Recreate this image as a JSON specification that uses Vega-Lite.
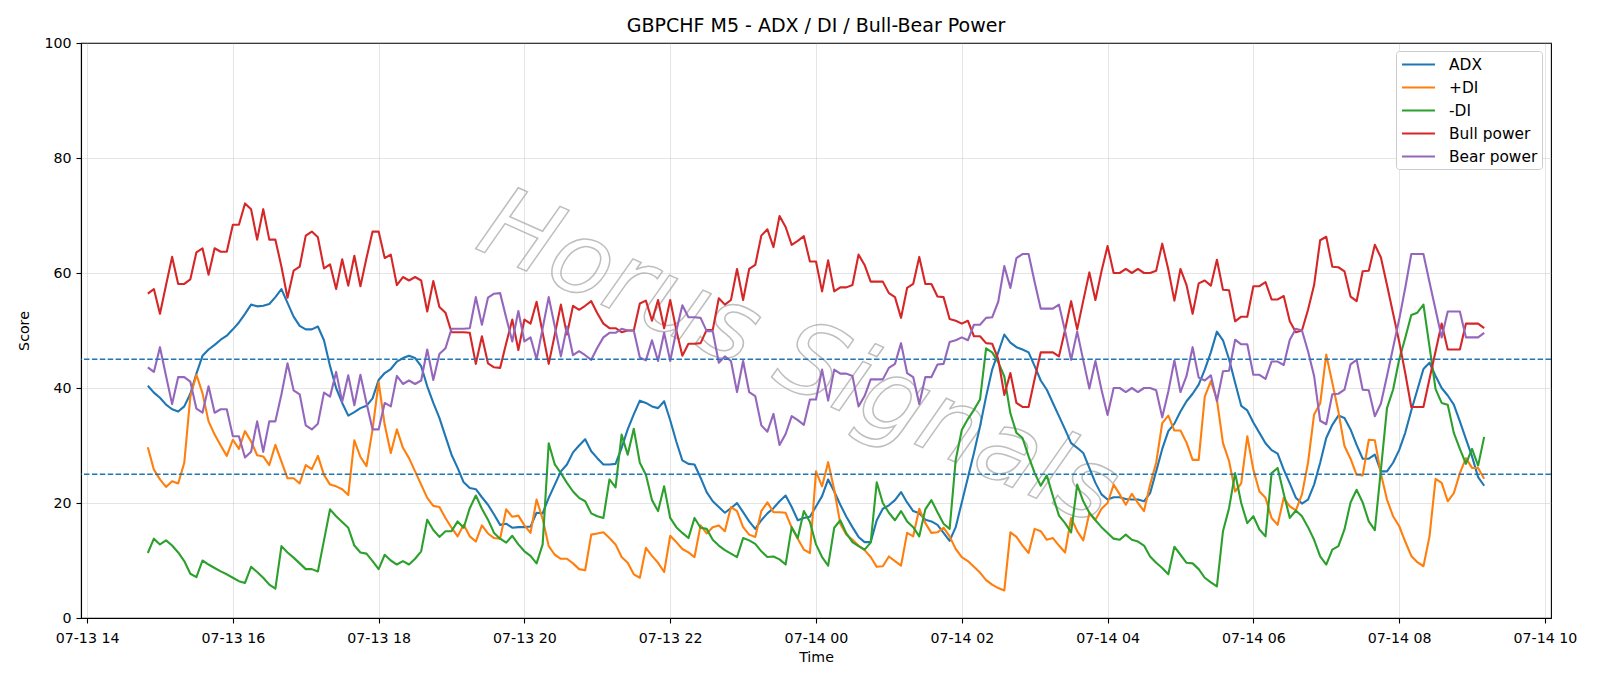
{
  "$schema": "https://vega.github.io/schema/vega-lite/v6.json",
  "width": 1470,
  "height": 575,
  "autosize": {"type": "none"},
  "padding": {"left": 81, "top": 43, "right": 49, "bottom": 68},
  "background": "white",
  "title": {
    "text": "GBPCHF M5 - ADX / DI / Bull-Bear Power",
    "font": "DejaVu Sans",
    "fontSize": 19,
    "fontWeight": "normal",
    "color": "black",
    "anchor": "middle",
    "offset": 0
  },
  "config": {
    "view": {"stroke": "black", "strokeWidth": 1.1},
    "axis": {
      "labelFont": "DejaVu Sans",
      "titleFont": "DejaVu Sans",
      "labelFontSize": 14.2,
      "titleFontSize": 14.2,
      "labelColor": "black",
      "titleColor": "black",
      "titleFontWeight": "normal",
      "domainColor": "black",
      "domainWidth": 1.1,
      "tickColor": "black",
      "tickWidth": 1.1,
      "tickSize": 5,
      "gridColor": "#b0b0b0",
      "gridOpacity": 0.33,
      "gridWidth": 1
    },
    "legend": {
      "labelFont": "DejaVu Sans",
      "labelFontSize": 15.4,
      "labelColor": "black",
      "symbolStrokeWidth": 2.1,
      "padding": 4,
      "strokeColor": "#cccccc",
      "fillColor": "white",
      "cornerRadius": 3
    }
  },
  "layer": [
    {
      "data": {"values": [{"t": "2025-07-13T23:45", "value": 45}]},
      "mark": {
        "type": "text",
        "text": "Horus Signals",
        "font": "DejaVu Sans",
        "fontStyle": "italic",
        "fontSize": 100,
        "angle": 24,
        "align": "center",
        "baseline": "middle",
        "fill": "#ffffff",
        "fillOpacity": 0,
        "stroke": "#a8a8a8",
        "strokeWidth": 1.5,
        "strokeOpacity": 0.75
      },
      "encoding": {
        "x": {"field": "t", "type": "temporal"},
        "y": {"field": "value", "type": "quantitative"}
      }
    },
    {
      "data": {
        "values": [
          {"t":"2025-07-13T14:50","ADX":40.4,"+DI":29.7,"-DI":11.3,"Bull power":56.4,"Bear power":43.6},
          {"t":"2025-07-13T14:55","ADX":39.2,"+DI":25.8,"-DI":13.8,"Bull power":57.2,"Bear power":42.8},
          {"t":"2025-07-13T15:00","ADX":38.3,"+DI":24.1,"-DI":12.8,"Bull power":52.9,"Bear power":47.1},
          {"t":"2025-07-13T15:05","ADX":37.1,"+DI":22.8,"-DI":13.5,"Bull power":57.9,"Bear power":42.1},
          {"t":"2025-07-13T15:10","ADX":36.3,"+DI":23.8,"-DI":12.6,"Bull power":62.8,"Bear power":37.2},
          {"t":"2025-07-13T15:15","ADX":35.9,"+DI":23.4,"-DI":11.4,"Bull power":58.1,"Bear power":41.9},
          {"t":"2025-07-13T15:20","ADX":36.8,"+DI":27.0,"-DI":9.9,"Bull power":58.1,"Bear power":41.9},
          {"t":"2025-07-13T15:25","ADX":39.0,"+DI":38.5,"-DI":7.7,"Bull power":58.9,"Bear power":41.1},
          {"t":"2025-07-13T15:30","ADX":42.5,"+DI":42.3,"-DI":7.1,"Bull power":63.6,"Bear power":36.4},
          {"t":"2025-07-13T15:35","ADX":45.6,"+DI":39.1,"-DI":10.0,"Bull power":64.3,"Bear power":35.7},
          {"t":"2025-07-13T15:40","ADX":46.7,"+DI":34.2,"-DI":9.3,"Bull power":59.7,"Bear power":40.3},
          {"t":"2025-07-13T15:45","ADX":47.5,"+DI":31.9,"-DI":8.7,"Bull power":64.3,"Bear power":35.7},
          {"t":"2025-07-13T15:50","ADX":48.4,"+DI":30.0,"-DI":8.1,"Bull power":63.7,"Bear power":36.3},
          {"t":"2025-07-13T15:55","ADX":49.1,"+DI":28.2,"-DI":7.6,"Bull power":63.7,"Bear power":36.3},
          {"t":"2025-07-13T16:00","ADX":50.2,"+DI":31.0,"-DI":7.0,"Bull power":68.4,"Bear power":31.6},
          {"t":"2025-07-13T16:05","ADX":51.4,"+DI":29.4,"-DI":6.4,"Bull power":68.4,"Bear power":31.6},
          {"t":"2025-07-13T16:10","ADX":52.9,"+DI":32.5,"-DI":6.1,"Bull power":72.1,"Bear power":27.9},
          {"t":"2025-07-13T16:15","ADX":54.5,"+DI":30.7,"-DI":8.9,"Bull power":71.1,"Bear power":28.9},
          {"t":"2025-07-13T16:20","ADX":54.2,"+DI":28.3,"-DI":8.0,"Bull power":65.8,"Bear power":34.2},
          {"t":"2025-07-13T16:25","ADX":54.3,"+DI":28.1,"-DI":7.0,"Bull power":71.1,"Bear power":28.9},
          {"t":"2025-07-13T16:30","ADX":54.6,"+DI":26.6,"-DI":5.8,"Bull power":65.8,"Bear power":34.2},
          {"t":"2025-07-13T16:35","ADX":55.8,"+DI":30.1,"-DI":5.1,"Bull power":65.8,"Bear power":34.2},
          {"t":"2025-07-13T16:40","ADX":57.2,"+DI":27.2,"-DI":12.5,"Bull power":61.1,"Bear power":38.9},
          {"t":"2025-07-13T16:45","ADX":54.8,"+DI":24.3,"-DI":11.4,"Bull power":55.7,"Bear power":44.3},
          {"t":"2025-07-13T16:50","ADX":52.4,"+DI":24.3,"-DI":10.5,"Bull power":60.4,"Bear power":39.6},
          {"t":"2025-07-13T16:55","ADX":50.8,"+DI":23.4,"-DI":9.5,"Bull power":61.1,"Bear power":38.9},
          {"t":"2025-07-13T17:00","ADX":50.2,"+DI":26.6,"-DI":8.5,"Bull power":66.5,"Bear power":33.5},
          {"t":"2025-07-13T17:05","ADX":50.2,"+DI":25.9,"-DI":8.5,"Bull power":67.2,"Bear power":32.8},
          {"t":"2025-07-13T17:10","ADX":50.7,"+DI":28.2,"-DI":8.1,"Bull power":66.2,"Bear power":33.8},
          {"t":"2025-07-13T17:15","ADX":48.3,"+DI":24.9,"-DI":13.5,"Bull power":60.8,"Bear power":39.2},
          {"t":"2025-07-13T17:20","ADX":43.8,"+DI":23.2,"-DI":18.9,"Bull power":61.5,"Bear power":38.5},
          {"t":"2025-07-13T17:25","ADX":40.0,"+DI":22.9,"-DI":17.7,"Bull power":57.2,"Bear power":42.8},
          {"t":"2025-07-13T17:30","ADX":37.4,"+DI":22.4,"-DI":16.7,"Bull power":62.4,"Bear power":37.6},
          {"t":"2025-07-13T17:35","ADX":35.2,"+DI":21.4,"-DI":15.7,"Bull power":57.8,"Bear power":42.2},
          {"t":"2025-07-13T17:40","ADX":35.8,"+DI":30.9,"-DI":12.6,"Bull power":63.0,"Bear power":37.0},
          {"t":"2025-07-13T17:45","ADX":36.5,"+DI":28.0,"-DI":11.4,"Bull power":57.7,"Bear power":42.3},
          {"t":"2025-07-13T17:50","ADX":36.9,"+DI":26.4,"-DI":11.2,"Bull power":62.6,"Bear power":37.4},
          {"t":"2025-07-13T17:55","ADX":38.2,"+DI":32.8,"-DI":9.9,"Bull power":67.2,"Bear power":32.8},
          {"t":"2025-07-13T18:00","ADX":41.4,"+DI":41.0,"-DI":8.5,"Bull power":67.2,"Bear power":32.8},
          {"t":"2025-07-13T18:05","ADX":42.6,"+DI":33.6,"-DI":11.0,"Bull power":62.6,"Bear power":37.4},
          {"t":"2025-07-13T18:10","ADX":43.3,"+DI":28.7,"-DI":10.0,"Bull power":63.2,"Bear power":36.8},
          {"t":"2025-07-13T18:15","ADX":44.6,"+DI":32.8,"-DI":9.3,"Bull power":57.9,"Bear power":42.1},
          {"t":"2025-07-13T18:20","ADX":45.2,"+DI":29.6,"-DI":9.9,"Bull power":59.3,"Bear power":40.7},
          {"t":"2025-07-13T18:25","ADX":45.6,"+DI":27.8,"-DI":9.3,"Bull power":58.7,"Bear power":41.3},
          {"t":"2025-07-13T18:30","ADX":45.2,"+DI":25.5,"-DI":10.3,"Bull power":59.3,"Bear power":40.7},
          {"t":"2025-07-13T18:35","ADX":43.8,"+DI":23.2,"-DI":11.6,"Bull power":58.7,"Bear power":41.3},
          {"t":"2025-07-13T18:40","ADX":40.3,"+DI":20.9,"-DI":17.1,"Bull power":53.3,"Bear power":46.7},
          {"t":"2025-07-13T18:45","ADX":37.4,"+DI":19.5,"-DI":15.3,"Bull power":58.6,"Bear power":41.4},
          {"t":"2025-07-13T18:50","ADX":34.8,"+DI":19.3,"-DI":14.1,"Bull power":54.1,"Bear power":45.9},
          {"t":"2025-07-13T18:55","ADX":31.6,"+DI":17.4,"-DI":15.1,"Bull power":53.1,"Bear power":46.9},
          {"t":"2025-07-13T19:00","ADX":28.4,"+DI":15.7,"-DI":15.1,"Bull power":49.7,"Bear power":50.3},
          {"t":"2025-07-13T19:05","ADX":26.1,"+DI":14.2,"-DI":16.8,"Bull power":49.7,"Bear power":50.3},
          {"t":"2025-07-13T19:10","ADX":23.6,"+DI":16.2,"-DI":15.7,"Bull power":49.7,"Bear power":50.3},
          {"t":"2025-07-13T19:15","ADX":22.6,"+DI":14.2,"-DI":19.1,"Bull power":49.6,"Bear power":50.4},
          {"t":"2025-07-13T19:20","ADX":22.4,"+DI":13.3,"-DI":21.3,"Bull power":44.2,"Bear power":55.8},
          {"t":"2025-07-13T19:25","ADX":21.0,"+DI":16.1,"-DI":19.0,"Bull power":49.0,"Bear power":51.0},
          {"t":"2025-07-13T19:30","ADX":19.7,"+DI":14.7,"-DI":17.1,"Bull power":44.3,"Bear power":55.7},
          {"t":"2025-07-13T19:35","ADX":18.0,"+DI":13.9,"-DI":14.8,"Bull power":43.6,"Bear power":56.4},
          {"t":"2025-07-13T19:40","ADX":16.2,"+DI":13.8,"-DI":13.8,"Bull power":43.5,"Bear power":56.5},
          {"t":"2025-07-13T19:45","ADX":16.4,"+DI":18.9,"-DI":13.1,"Bull power":47.8,"Bear power":52.2},
          {"t":"2025-07-13T19:50","ADX":15.7,"+DI":17.6,"-DI":14.3,"Bull power":51.9,"Bear power":48.1},
          {"t":"2025-07-13T19:55","ADX":15.8,"+DI":17.8,"-DI":12.8,"Bull power":46.6,"Bear power":53.4},
          {"t":"2025-07-13T20:00","ADX":15.8,"+DI":16.1,"-DI":11.6,"Bull power":51.9,"Bear power":48.1},
          {"t":"2025-07-13T20:05","ADX":15.9,"+DI":14.8,"-DI":10.8,"Bull power":51.2,"Bear power":48.8},
          {"t":"2025-07-13T20:10","ADX":18.3,"+DI":20.6,"-DI":9.5,"Bull power":55.0,"Bear power":45.0},
          {"t":"2025-07-13T20:15","ADX":18.2,"+DI":17.2,"-DI":12.8,"Bull power":49.6,"Bear power":50.4},
          {"t":"2025-07-13T20:20","ADX":20.9,"+DI":12.5,"-DI":30.4,"Bull power":44.2,"Bear power":55.8},
          {"t":"2025-07-13T20:25","ADX":23.2,"+DI":11.0,"-DI":26.7,"Bull power":49.3,"Bear power":50.7},
          {"t":"2025-07-13T20:30","ADX":25.5,"+DI":10.3,"-DI":25.2,"Bull power":54.5,"Bear power":45.5},
          {"t":"2025-07-13T20:35","ADX":26.7,"+DI":10.3,"-DI":23.5,"Bull power":49.3,"Bear power":50.7},
          {"t":"2025-07-13T20:40","ADX":28.8,"+DI":9.5,"-DI":22.0,"Bull power":54.3,"Bear power":45.7},
          {"t":"2025-07-13T20:45","ADX":30.0,"+DI":8.5,"-DI":20.9,"Bull power":53.6,"Bear power":46.4},
          {"t":"2025-07-13T20:50","ADX":31.1,"+DI":8.3,"-DI":20.3,"Bull power":54.3,"Bear power":45.7},
          {"t":"2025-07-13T20:55","ADX":29.0,"+DI":14.5,"-DI":18.2,"Bull power":55.1,"Bear power":44.9},
          {"t":"2025-07-13T21:00","ADX":27.8,"+DI":14.7,"-DI":17.7,"Bull power":53.0,"Bear power":47.0},
          {"t":"2025-07-13T21:05","ADX":26.7,"+DI":14.9,"-DI":17.4,"Bull power":51.2,"Bear power":48.8},
          {"t":"2025-07-13T21:10","ADX":26.7,"+DI":13.9,"-DI":24.1,"Bull power":50.4,"Bear power":49.6},
          {"t":"2025-07-13T21:15","ADX":26.8,"+DI":12.8,"-DI":22.7,"Bull power":50.4,"Bear power":49.6},
          {"t":"2025-07-13T21:20","ADX":29.6,"+DI":10.6,"-DI":31.9,"Bull power":49.7,"Bear power":50.3},
          {"t":"2025-07-13T21:25","ADX":32.8,"+DI":9.6,"-DI":28.4,"Bull power":50.0,"Bear power":50.0},
          {"t":"2025-07-13T21:30","ADX":35.4,"+DI":7.6,"-DI":32.9,"Bull power":50.0,"Bear power":50.0},
          {"t":"2025-07-13T21:35","ADX":37.8,"+DI":7.0,"-DI":27.0,"Bull power":54.7,"Bear power":45.3},
          {"t":"2025-07-13T21:40","ADX":37.4,"+DI":12.2,"-DI":24.9,"Bull power":55.2,"Bear power":44.8},
          {"t":"2025-07-13T21:45","ADX":36.8,"+DI":10.8,"-DI":20.5,"Bull power":51.7,"Bear power":48.3},
          {"t":"2025-07-13T21:50","ADX":36.5,"+DI":9.6,"-DI":18.6,"Bull power":55.3,"Bear power":44.7},
          {"t":"2025-07-13T21:55","ADX":37.7,"+DI":8.0,"-DI":22.9,"Bull power":50.4,"Bear power":49.6},
          {"t":"2025-07-13T22:00","ADX":34.4,"+DI":14.3,"-DI":17.4,"Bull power":55.3,"Bear power":44.7},
          {"t":"2025-07-13T22:05","ADX":30.7,"+DI":13.2,"-DI":15.8,"Bull power":50.1,"Bear power":49.9},
          {"t":"2025-07-13T22:10","ADX":27.4,"+DI":12.0,"-DI":14.8,"Bull power":45.6,"Bear power":54.4},
          {"t":"2025-07-13T22:15","ADX":26.8,"+DI":11.4,"-DI":13.9,"Bull power":47.7,"Bear power":52.3},
          {"t":"2025-07-13T22:20","ADX":26.7,"+DI":10.6,"-DI":17.4,"Bull power":47.7,"Bear power":52.3},
          {"t":"2025-07-13T22:25","ADX":24.4,"+DI":16.1,"-DI":15.7,"Bull power":47.8,"Bear power":52.2},
          {"t":"2025-07-13T22:30","ADX":21.9,"+DI":14.7,"-DI":15.5,"Bull power":50.1,"Bear power":49.9},
          {"t":"2025-07-13T22:35","ADX":20.3,"+DI":15.8,"-DI":13.6,"Bull power":50.1,"Bear power":49.9},
          {"t":"2025-07-13T22:40","ADX":19.3,"+DI":16.1,"-DI":12.6,"Bull power":55.6,"Bear power":44.4},
          {"t":"2025-07-13T22:45","ADX":18.3,"+DI":15.1,"-DI":11.8,"Bull power":54.5,"Bear power":45.5},
          {"t":"2025-07-13T22:50","ADX":19.1,"+DI":19.3,"-DI":11.2,"Bull power":55.3,"Bear power":44.7},
          {"t":"2025-07-13T22:55","ADX":20.0,"+DI":18.6,"-DI":10.6,"Bull power":60.7,"Bear power":39.3},
          {"t":"2025-07-13T23:00","ADX":18.4,"+DI":15.8,"-DI":13.9,"Bull power":55.3,"Bear power":44.7},
          {"t":"2025-07-13T23:05","ADX":16.8,"+DI":14.5,"-DI":13.5,"Bull power":60.7,"Bear power":39.3},
          {"t":"2025-07-13T23:10","ADX":15.5,"+DI":14.1,"-DI":12.9,"Bull power":61.4,"Bear power":38.6},
          {"t":"2025-07-13T23:15","ADX":17.0,"+DI":18.6,"-DI":11.6,"Bull power":66.5,"Bear power":33.5},
          {"t":"2025-07-13T23:20","ADX":18.2,"+DI":20.1,"-DI":10.6,"Bull power":67.6,"Bear power":32.4},
          {"t":"2025-07-13T23:25","ADX":19.1,"+DI":18.4,"-DI":10.7,"Bull power":64.5,"Bear power":35.5},
          {"t":"2025-07-13T23:30","ADX":20.3,"+DI":18.4,"-DI":10.2,"Bull power":69.9,"Bear power":30.1},
          {"t":"2025-07-13T23:35","ADX":21.3,"+DI":18.3,"-DI":9.3,"Bull power":68.0,"Bear power":32.0},
          {"t":"2025-07-13T23:40","ADX":19.3,"+DI":15.7,"-DI":15.8,"Bull power":64.9,"Bear power":35.1},
          {"t":"2025-07-13T23:45","ADX":17.0,"+DI":13.8,"-DI":13.9,"Bull power":65.6,"Bear power":34.4},
          {"t":"2025-07-13T23:50","ADX":17.4,"+DI":11.9,"-DI":18.6,"Bull power":66.4,"Bear power":33.6},
          {"t":"2025-07-13T23:55","ADX":17.6,"+DI":11.3,"-DI":16.7,"Bull power":62.0,"Bear power":38.0},
          {"t":"2025-07-14T00:00","ADX":19.4,"+DI":25.5,"-DI":12.8,"Bull power":62.0,"Bear power":38.0},
          {"t":"2025-07-14T00:05","ADX":21.2,"+DI":22.9,"-DI":10.6,"Bull power":56.8,"Bear power":43.2},
          {"t":"2025-07-14T00:10","ADX":24.1,"+DI":27.1,"-DI":9.1,"Bull power":62.2,"Bear power":37.8},
          {"t":"2025-07-14T00:15","ADX":22.0,"+DI":22.3,"-DI":15.7,"Bull power":56.8,"Bear power":43.2},
          {"t":"2025-07-14T00:20","ADX":19.7,"+DI":16.4,"-DI":17.0,"Bull power":57.5,"Bear power":42.5},
          {"t":"2025-07-14T00:25","ADX":17.6,"+DI":14.5,"-DI":14.7,"Bull power":57.5,"Bear power":42.5},
          {"t":"2025-07-14T00:30","ADX":15.8,"+DI":13.6,"-DI":13.2,"Bull power":57.9,"Bear power":42.1},
          {"t":"2025-07-14T00:35","ADX":14.1,"+DI":12.6,"-DI":12.5,"Bull power":63.2,"Bear power":36.8},
          {"t":"2025-07-14T00:40","ADX":13.2,"+DI":11.8,"-DI":11.9,"Bull power":61.4,"Bear power":38.6},
          {"t":"2025-07-14T00:45","ADX":13.2,"+DI":10.6,"-DI":13.1,"Bull power":58.5,"Bear power":41.5},
          {"t":"2025-07-14T00:50","ADX":17.0,"+DI":8.9,"-DI":23.6,"Bull power":58.5,"Bear power":41.5},
          {"t":"2025-07-14T00:55","ADX":19.0,"+DI":9.0,"-DI":20.0,"Bull power":58.5,"Bear power":41.5},
          {"t":"2025-07-14T01:00","ADX":19.6,"+DI":10.7,"-DI":18.3,"Bull power":56.5,"Bear power":43.5},
          {"t":"2025-07-14T01:05","ADX":20.5,"+DI":9.9,"-DI":17.0,"Bull power":55.8,"Bear power":44.2},
          {"t":"2025-07-14T01:10","ADX":21.9,"+DI":9.1,"-DI":18.6,"Bull power":52.2,"Bear power":47.8},
          {"t":"2025-07-14T01:15","ADX":20.1,"+DI":14.8,"-DI":16.8,"Bull power":57.4,"Bear power":42.6},
          {"t":"2025-07-14T01:20","ADX":18.6,"+DI":14.2,"-DI":15.8,"Bull power":58.1,"Bear power":41.9},
          {"t":"2025-07-14T01:25","ADX":18.2,"+DI":19.0,"-DI":14.2,"Bull power":62.8,"Bear power":37.2},
          {"t":"2025-07-14T01:30","ADX":17.1,"+DI":16.5,"-DI":18.9,"Bull power":58.1,"Bear power":41.9},
          {"t":"2025-07-14T01:35","ADX":16.8,"+DI":14.8,"-DI":20.5,"Bull power":58.1,"Bear power":41.9},
          {"t":"2025-07-14T01:40","ADX":16.2,"+DI":14.9,"-DI":18.4,"Bull power":55.9,"Bear power":44.1},
          {"t":"2025-07-14T01:45","ADX":14.8,"+DI":15.7,"-DI":16.4,"Bull power":55.8,"Bear power":44.2},
          {"t":"2025-07-14T01:50","ADX":13.4,"+DI":14.2,"-DI":15.5,"Bull power":52.0,"Bear power":48.0},
          {"t":"2025-07-14T01:55","ADX":15.8,"+DI":12.0,"-DI":27.5,"Bull power":51.7,"Bear power":48.3},
          {"t":"2025-07-14T02:00","ADX":20.1,"+DI":10.6,"-DI":32.7,"Bull power":51.2,"Bear power":48.8},
          {"t":"2025-07-14T02:05","ADX":24.4,"+DI":9.9,"-DI":34.6,"Bull power":51.7,"Bear power":48.3},
          {"t":"2025-07-14T02:10","ADX":28.7,"+DI":8.9,"-DI":36.2,"Bull power":49.0,"Bear power":51.0},
          {"t":"2025-07-14T02:15","ADX":33.3,"+DI":7.9,"-DI":38.0,"Bull power":49.0,"Bear power":51.0},
          {"t":"2025-07-14T02:20","ADX":38.5,"+DI":6.6,"-DI":46.9,"Bull power":47.8,"Bear power":52.2},
          {"t":"2025-07-14T02:25","ADX":43.2,"+DI":5.8,"-DI":46.2,"Bull power":47.7,"Bear power":52.3},
          {"t":"2025-07-14T02:30","ADX":46.2,"+DI":5.2,"-DI":44.5,"Bull power":45.0,"Bear power":55.0},
          {"t":"2025-07-14T02:35","ADX":49.3,"+DI":4.8,"-DI":42.0,"Bull power":38.8,"Bear power":61.2},
          {"t":"2025-07-14T02:40","ADX":47.9,"+DI":14.9,"-DI":35.6,"Bull power":42.6,"Bear power":57.4},
          {"t":"2025-07-14T02:45","ADX":47.1,"+DI":14.1,"-DI":32.2,"Bull power":37.4,"Bear power":62.6},
          {"t":"2025-07-14T02:50","ADX":46.7,"+DI":12.6,"-DI":31.3,"Bull power":36.7,"Bear power":63.3},
          {"t":"2025-07-14T02:55","ADX":46.2,"+DI":11.3,"-DI":28.1,"Bull power":36.7,"Bear power":63.3},
          {"t":"2025-07-14T03:00","ADX":43.8,"+DI":15.5,"-DI":25.2,"Bull power":41.6,"Bear power":58.4},
          {"t":"2025-07-14T03:05","ADX":41.3,"+DI":15.1,"-DI":23.0,"Bull power":46.2,"Bear power":53.8},
          {"t":"2025-07-14T03:10","ADX":39.7,"+DI":13.6,"-DI":24.8,"Bull power":46.2,"Bear power":53.8},
          {"t":"2025-07-14T03:15","ADX":37.4,"+DI":13.9,"-DI":21.2,"Bull power":46.2,"Bear power":53.8},
          {"t":"2025-07-14T03:20","ADX":35.1,"+DI":12.6,"-DI":17.8,"Bull power":45.5,"Bear power":54.5},
          {"t":"2025-07-14T03:25","ADX":32.8,"+DI":11.4,"-DI":16.5,"Bull power":50.1,"Bear power":49.9},
          {"t":"2025-07-14T03:30","ADX":30.4,"+DI":17.4,"-DI":14.9,"Bull power":55.1,"Bear power":44.9},
          {"t":"2025-07-14T03:35","ADX":29.6,"+DI":15.1,"-DI":23.2,"Bull power":50.2,"Bear power":49.8},
          {"t":"2025-07-14T03:40","ADX":28.7,"+DI":13.5,"-DI":20.3,"Bull power":55.2,"Bear power":44.8},
          {"t":"2025-07-14T03:45","ADX":26.1,"+DI":18.2,"-DI":18.3,"Bull power":60.1,"Bear power":39.9},
          {"t":"2025-07-14T03:50","ADX":23.5,"+DI":17.1,"-DI":17.0,"Bull power":55.3,"Bear power":44.7},
          {"t":"2025-07-14T03:55","ADX":21.5,"+DI":19.0,"-DI":15.8,"Bull power":60.3,"Bear power":39.7},
          {"t":"2025-07-14T04:00","ADX":20.6,"+DI":20.0,"-DI":14.8,"Bull power":64.7,"Bear power":35.3},
          {"t":"2025-07-14T04:05","ADX":21.0,"+DI":23.2,"-DI":13.8,"Bull power":60.0,"Bear power":40.0},
          {"t":"2025-07-14T04:10","ADX":21.0,"+DI":21.5,"-DI":13.6,"Bull power":60.0,"Bear power":40.0},
          {"t":"2025-07-14T04:15","ADX":20.7,"+DI":19.7,"-DI":14.5,"Bull power":60.7,"Bear power":39.3},
          {"t":"2025-07-14T04:20","ADX":20.6,"+DI":21.6,"-DI":13.6,"Bull power":60.0,"Bear power":40.0},
          {"t":"2025-07-14T04:25","ADX":20.6,"+DI":20.0,"-DI":13.3,"Bull power":60.7,"Bear power":39.3},
          {"t":"2025-07-14T04:30","ADX":20.3,"+DI":18.6,"-DI":12.6,"Bull power":60.0,"Bear power":40.0},
          {"t":"2025-07-14T04:35","ADX":21.7,"+DI":23.2,"-DI":10.7,"Bull power":60.0,"Bear power":40.0},
          {"t":"2025-07-14T04:40","ADX":25.5,"+DI":27.0,"-DI":9.6,"Bull power":60.4,"Bear power":39.6},
          {"t":"2025-07-14T04:45","ADX":29.4,"+DI":33.9,"-DI":8.7,"Bull power":65.1,"Bear power":34.9},
          {"t":"2025-07-14T04:50","ADX":32.5,"+DI":35.2,"-DI":7.6,"Bull power":60.6,"Bear power":39.4},
          {"t":"2025-07-14T04:55","ADX":33.8,"+DI":32.6,"-DI":12.4,"Bull power":55.2,"Bear power":44.8},
          {"t":"2025-07-14T05:00","ADX":35.9,"+DI":32.6,"-DI":11.0,"Bull power":60.7,"Bear power":39.3},
          {"t":"2025-07-14T05:05","ADX":37.7,"+DI":30.5,"-DI":9.6,"Bull power":57.9,"Bear power":42.1},
          {"t":"2025-07-14T05:10","ADX":39.0,"+DI":27.5,"-DI":9.5,"Bull power":52.9,"Bear power":47.1},
          {"t":"2025-07-14T05:15","ADX":40.6,"+DI":27.5,"-DI":8.5,"Bull power":58.2,"Bear power":41.8},
          {"t":"2025-07-14T05:20","ADX":43.2,"+DI":38.5,"-DI":7.0,"Bull power":58.7,"Bear power":41.3},
          {"t":"2025-07-14T05:25","ADX":46.2,"+DI":41.2,"-DI":6.2,"Bull power":57.8,"Bear power":42.2},
          {"t":"2025-07-14T05:30","ADX":49.8,"+DI":38.0,"-DI":5.5,"Bull power":62.3,"Bear power":37.7},
          {"t":"2025-07-14T05:35","ADX":48.3,"+DI":30.4,"-DI":15.1,"Bull power":57.1,"Bear power":42.9},
          {"t":"2025-07-14T05:40","ADX":45.0,"+DI":27.3,"-DI":19.1,"Bull power":57.0,"Bear power":43.0},
          {"t":"2025-07-14T05:45","ADX":40.9,"+DI":22.0,"-DI":25.2,"Bull power":51.6,"Bear power":48.4},
          {"t":"2025-07-14T05:50","ADX":36.9,"+DI":23.4,"-DI":20.0,"Bull power":52.4,"Bear power":47.6},
          {"t":"2025-07-14T05:55","ADX":36.1,"+DI":31.6,"-DI":16.5,"Bull power":52.4,"Bear power":47.6},
          {"t":"2025-07-14T06:00","ADX":34.0,"+DI":25.8,"-DI":17.7,"Bull power":57.7,"Bear power":42.3},
          {"t":"2025-07-14T06:05","ADX":32.2,"+DI":22.0,"-DI":15.4,"Bull power":57.7,"Bear power":42.3},
          {"t":"2025-07-14T06:10","ADX":30.4,"+DI":20.9,"-DI":14.2,"Bull power":58.4,"Bear power":41.6},
          {"t":"2025-07-14T06:15","ADX":29.2,"+DI":17.4,"-DI":25.2,"Bull power":55.4,"Bear power":44.6},
          {"t":"2025-07-14T06:20","ADX":28.6,"+DI":16.2,"-DI":26.1,"Bull power":55.4,"Bear power":44.6},
          {"t":"2025-07-14T06:25","ADX":25.8,"+DI":20.9,"-DI":21.6,"Bull power":56.0,"Bear power":44.0},
          {"t":"2025-07-14T06:30","ADX":23.4,"+DI":19.4,"-DI":17.4,"Bull power":51.6,"Bear power":48.4},
          {"t":"2025-07-14T06:35","ADX":20.9,"+DI":18.7,"-DI":18.7,"Bull power":49.7,"Bear power":50.3},
          {"t":"2025-07-14T06:40","ADX":19.9,"+DI":21.5,"-DI":17.7,"Bull power":50.0,"Bear power":50.0},
          {"t":"2025-07-14T06:45","ADX":20.6,"+DI":27.0,"-DI":15.8,"Bull power":53.6,"Bear power":46.4},
          {"t":"2025-07-14T06:50","ADX":23.2,"+DI":35.4,"-DI":13.6,"Bull power":57.9,"Bear power":42.1},
          {"t":"2025-07-14T06:55","ADX":27.0,"+DI":37.3,"-DI":10.7,"Bull power":65.7,"Bear power":34.3},
          {"t":"2025-07-14T07:00","ADX":31.3,"+DI":45.8,"-DI":9.3,"Bull power":66.3,"Bear power":33.7},
          {"t":"2025-07-14T07:05","ADX":33.6,"+DI":40.9,"-DI":11.9,"Bull power":61.1,"Bear power":38.9},
          {"t":"2025-07-14T07:10","ADX":35.2,"+DI":35.9,"-DI":12.5,"Bull power":61.0,"Bear power":39.0},
          {"t":"2025-07-14T07:15","ADX":34.8,"+DI":29.9,"-DI":15.4,"Bull power":60.3,"Bear power":39.7},
          {"t":"2025-07-14T07:20","ADX":32.8,"+DI":27.7,"-DI":20.1,"Bull power":55.9,"Bear power":44.1},
          {"t":"2025-07-14T07:25","ADX":30.1,"+DI":24.9,"-DI":22.3,"Bull power":55.1,"Bear power":44.9},
          {"t":"2025-07-14T07:30","ADX":27.7,"+DI":24.8,"-DI":20.1,"Bull power":60.3,"Bear power":39.7},
          {"t":"2025-07-14T07:35","ADX":27.7,"+DI":31.0,"-DI":16.8,"Bull power":60.4,"Bear power":39.6},
          {"t":"2025-07-14T07:40","ADX":28.4,"+DI":30.9,"-DI":15.3,"Bull power":64.9,"Bear power":35.1},
          {"t":"2025-07-14T07:45","ADX":25.5,"+DI":25.1,"-DI":25.8,"Bull power":62.7,"Bear power":37.3},
          {"t":"2025-07-14T07:50","ADX":25.5,"+DI":20.6,"-DI":36.5,"Bull power":57.9,"Bear power":42.1},
          {"t":"2025-07-14T07:55","ADX":27.0,"+DI":17.7,"-DI":39.7,"Bull power":53.0,"Bear power":47.0},
          {"t":"2025-07-14T08:00","ADX":29.2,"+DI":16.0,"-DI":44.9,"Bull power":48.1,"Bear power":51.9},
          {"t":"2025-07-14T08:05","ADX":32.2,"+DI":13.3,"-DI":48.7,"Bull power":42.6,"Bear power":57.4},
          {"t":"2025-07-14T08:10","ADX":36.1,"+DI":10.8,"-DI":52.7,"Bull power":36.7,"Bear power":63.3},
          {"t":"2025-07-14T08:15","ADX":39.7,"+DI":9.7,"-DI":53.1,"Bull power":36.7,"Bear power":63.3},
          {"t":"2025-07-14T08:20","ADX":43.3,"+DI":9.0,"-DI":54.5,"Bull power":36.7,"Bear power":63.3},
          {"t":"2025-07-14T08:25","ADX":44.4,"+DI":14.2,"-DI":47.2,"Bull power":41.6,"Bear power":58.4},
          {"t":"2025-07-14T08:30","ADX":42.1,"+DI":24.2,"-DI":39.8,"Bull power":46.4,"Bear power":53.6},
          {"t":"2025-07-14T08:35","ADX":40.0,"+DI":23.5,"-DI":37.4,"Bull power":51.2,"Bear power":48.8},
          {"t":"2025-07-14T08:40","ADX":38.7,"+DI":20.3,"-DI":37.1,"Bull power":46.7,"Bear power":53.3},
          {"t":"2025-07-14T08:45","ADX":37.1,"+DI":21.7,"-DI":32.2,"Bull power":46.7,"Bear power":53.3},
          {"t":"2025-07-14T08:50","ADX":34.2,"+DI":25.2,"-DI":29.4,"Bull power":46.7,"Bear power":53.3},
          {"t":"2025-07-14T08:55","ADX":31.1,"+DI":27.8,"-DI":26.8,"Bull power":51.2,"Bear power":48.8},
          {"t":"2025-07-14T09:00","ADX":28.1,"+DI":26.1,"-DI":29.4,"Bull power":51.2,"Bear power":48.8},
          {"t":"2025-07-14T09:05","ADX":24.5,"+DI":26.1,"-DI":26.5,"Bull power":51.2,"Bear power":48.8},
          {"t":"2025-07-14T09:10","ADX":23.0,"+DI":24.2,"-DI":31.5,"Bull power":50.4,"Bear power":49.6}
        ]
      },
      "transform": [
        {"fold": ["ADX", "+DI", "-DI", "Bull power", "Bear power"], "as": ["series", "value"]}
      ],
      "mark": {"type": "line", "strokeWidth": 2.1, "strokeJoin": "round"},
      "encoding": {
        "x": {
          "field": "t",
          "type": "temporal",
          "scale": {
            "domain": [
              {"year": 2025, "month": 7, "date": 13, "hours": 13, "minutes": 55},
              {"year": 2025, "month": 7, "date": 14, "hours": 10, "minutes": 5}
            ]
          },
          "axis": {
            "title": "Time",
            "format": "%m-%d %H",
            "values": [
              {"year": 2025, "month": 7, "date": 13, "hours": 14},
              {"year": 2025, "month": 7, "date": 13, "hours": 16},
              {"year": 2025, "month": 7, "date": 13, "hours": 18},
              {"year": 2025, "month": 7, "date": 13, "hours": 20},
              {"year": 2025, "month": 7, "date": 13, "hours": 22},
              {"year": 2025, "month": 7, "date": 14, "hours": 0},
              {"year": 2025, "month": 7, "date": 14, "hours": 2},
              {"year": 2025, "month": 7, "date": 14, "hours": 4},
              {"year": 2025, "month": 7, "date": 14, "hours": 6},
              {"year": 2025, "month": 7, "date": 14, "hours": 8},
              {"year": 2025, "month": 7, "date": 14, "hours": 10}
            ],
            "labelPadding": 8,
            "titlePadding": 5,
            "labelFlush": false,
            "labelOverlap": false,
            "grid": true
          }
        },
        "y": {
          "field": "value",
          "type": "quantitative",
          "scale": {"domain": [0, 100], "nice": false},
          "axis": {
            "title": "Score",
            "values": [0, 20, 40, 60, 80, 100],
            "labelPadding": 5,
            "titlePadding": 12,
            "grid": true
          }
        },
        "color": {
          "field": "series",
          "type": "nominal",
          "scale": {
            "domain": ["ADX", "+DI", "-DI", "Bull power", "Bear power"],
            "range": ["#1f77b4", "#ff7f0e", "#2ca02c", "#d62728", "#9467bd"]
          },
          "legend": {
            "title": null,
            "orient": "none",
            "legendX": 1315,
            "legendY": 8,
            "symbolType": "M-2,0H2",
            "symbolSize": 272,
            "symbolOffset": 9,
            "labelOffset": 21,
            "rowPadding": 5
          }
        }
      }
    },
    {
      "data": {"values": [{"value": 45}, {"value": 25}]},
      "mark": {"type": "rule", "color": "#1f77b4", "strokeWidth": 1.4, "strokeDash": [5.5, 2.4]},
      "encoding": {
        "y": {"field": "value", "type": "quantitative"}
      }
    }
  ]
}
